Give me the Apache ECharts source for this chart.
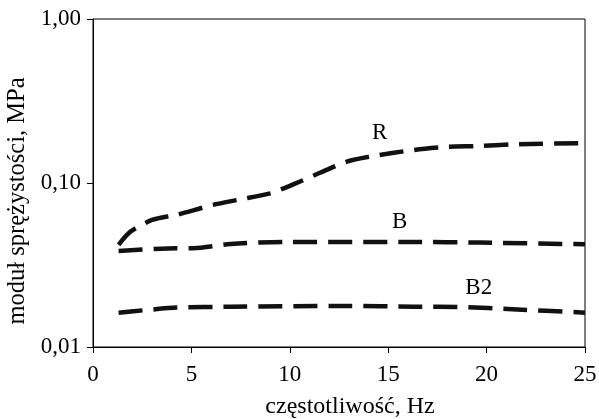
<!DOCTYPE html>
<html>
<head>
<meta charset="utf-8">
<script src="https://cdn.jsdelivr.net/npm/echarts@6/dist/echarts.min.js"></script>
<style>html,body{margin:0;padding:0;background:#fff;}#c{width:599px;height:419px;}</style>
</head>
<body>
<div id="c"></div>
<script>
const xTicks = [0, 5, 10, 15, 20, 25];
const yTicks = [0.01, 0.1, 1];

const rFreq = [1.3, 1.9, 3.0, 4.25, 6.1, 7.5, 9.0, 10.3, 11.5, 12.9, 14.1, 16.3, 18.0, 19.6, 21.3, 25];
const rVals = [0.042, 0.0505, 0.0595, 0.064, 0.0735, 0.0795, 0.0865, 0.0995, 0.115, 0.135, 0.145, 0.159, 0.166, 0.168, 0.172, 0.175];

const bFreq = [1.3, 4.25, 5.1, 7.0, 9.7, 16.3, 19.6, 25];
const bVals = [0.0385, 0.040, 0.040, 0.0425, 0.0437, 0.0437, 0.0433, 0.0423];

const b2Freq = [1.3, 2.7, 4.25, 7.0, 12.9, 16.3, 18.8, 21.3, 25];
const b2Vals = [0.0162, 0.0168, 0.0174, 0.0176, 0.0178, 0.0176, 0.0175, 0.0170, 0.0162];

const seriesNames = ['R', 'B', 'B2'];
const labelAnchors = [[14.57, 0.2017], [15.58, 0.0581], [19.6, 0.0228]];

const FONT = 'Liberation Serif';
const pairs = (xs, ys) => xs.map((x, i) => [x, ys[i]]);
const allData = [pairs(rFreq, rVals), pairs(bFreq, bVals), pairs(b2Freq, b2Vals)];

const chart = echarts.init(document.getElementById('c'), null, {renderer: 'canvas'});
chart.setOption({
  animation: false,
  backgroundColor: '#fff',
  grid: {left: 93, right: 14, top: 19, bottom: 72, containLabel: false, outerBoundsMode: 'none',
    show: true, borderColor: '#000', borderWidth: 1, backgroundColor: 'transparent'},
  xAxis: {
    type: 'value', min: xTicks[0], max: xTicks[xTicks.length - 1], interval: 5,
    name: 'częstotliwość, Hz', nameLocation: 'middle', nameGap: 48,
    nameTextStyle: {fontFamily: FONT, fontSize: 24, color: '#000', padding: [0, 0, 0, 22]},
    axisLine: {lineStyle: {color: '#000', width: 1}},
    axisTick: {show: true, inside: false, length: 6, lineStyle: {color: '#000'}},
    axisLabel: {fontFamily: FONT, fontSize: 23, color: '#000', margin: 16},
    splitLine: {show: false}
  },
  yAxis: {
    type: 'log', logBase: 10, min: yTicks[0], max: yTicks[yTicks.length - 1],
    name: 'moduł sprężystości, MPa', nameLocation: 'middle', nameGap: 55, nameRotate: 90,
    nameTextStyle: {fontFamily: FONT, fontSize: 24.5, color: '#000', padding: [0, 36, 0, 0]},
    axisLine: {show: true, lineStyle: {color: '#000', width: 1}},
    axisTick: {show: true, inside: false, length: 6, lineStyle: {color: '#000'}},
    minorTick: {show: false},
    axisLabel: {fontFamily: FONT, fontSize: 23, color: '#000', margin: 12,
      formatter: v => v.toFixed(2).replace('.', ',')},
    splitLine: {show: false}
  },
  series: allData.map((d, i) => ({
    name: seriesNames[i],
    type: 'line',
    data: d,
    smooth: 0.25,
    showSymbol: false,
    symbol: 'none',
    lineStyle: {color: '#111', width: 4.5, type: [24, 11], cap: 'butt'},
    markPoint: {
      symbol: 'circle', symbolSize: 0,
      label: {show: true, position: 'inside', formatter: seriesNames[i], fontFamily: FONT, fontSize: 23, color: '#000'},
      data: [{coord: labelAnchors[i]}]
    }
  }))
});
</script>
</body>
</html>
